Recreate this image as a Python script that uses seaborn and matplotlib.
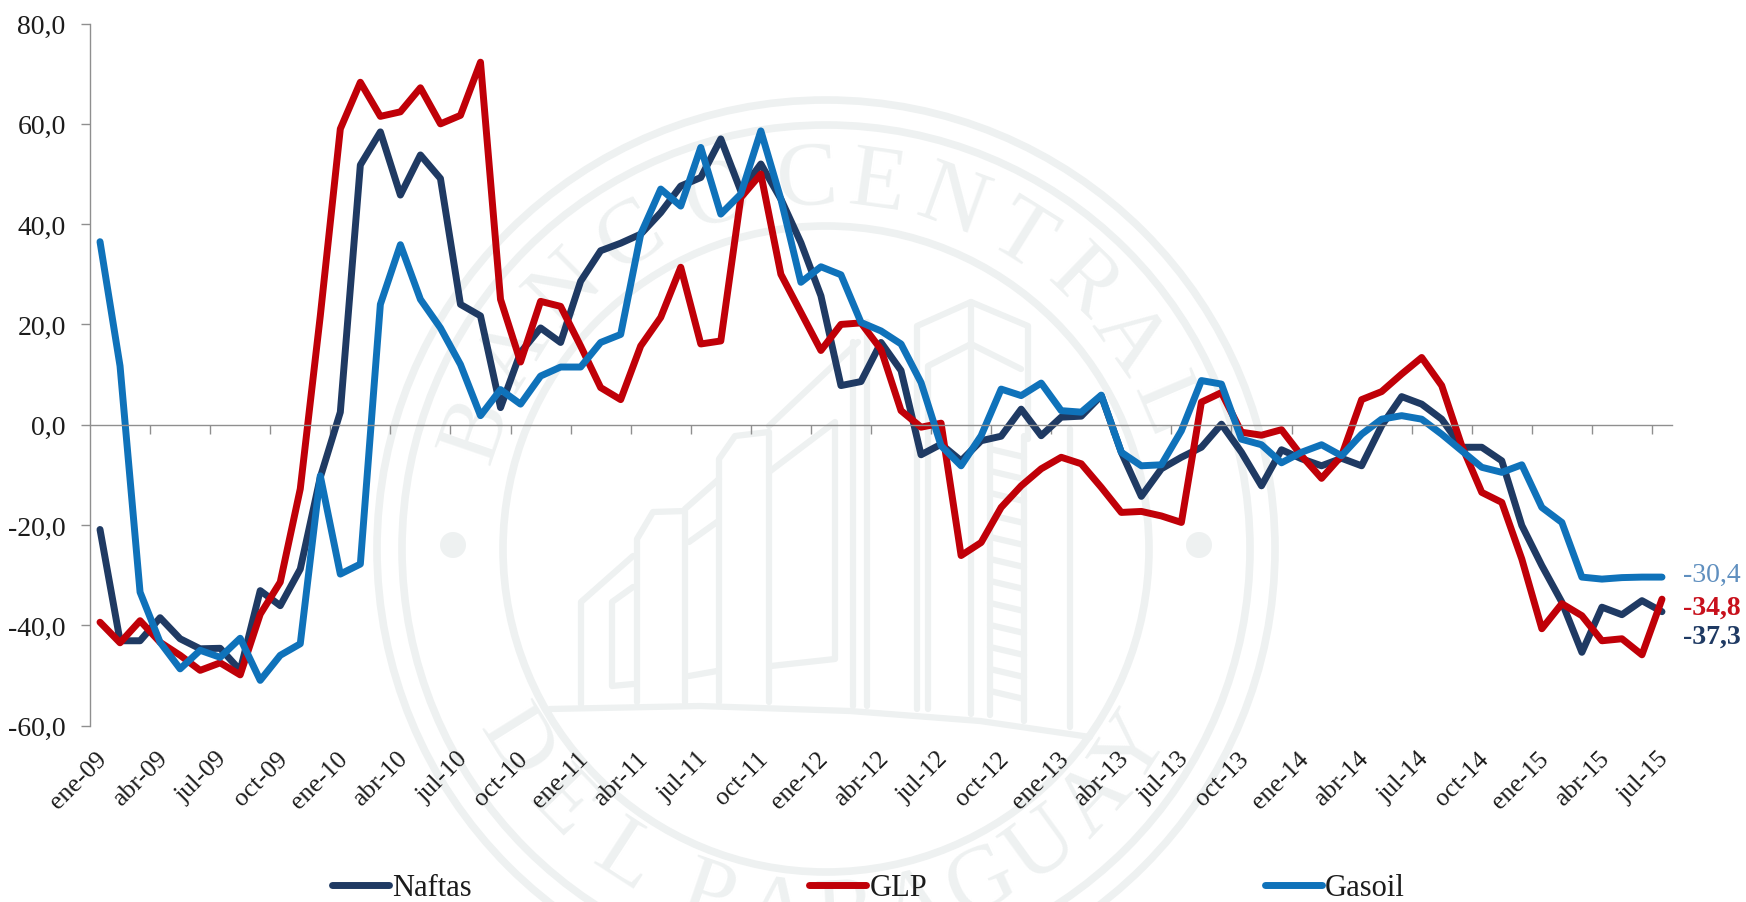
# Variacion interanual de precios de combustibles (Naftas, GLP, Gasoil)
import numpy as np
import pandas as pd
import matplotlib
matplotlib.use("Agg")
import matplotlib.pyplot as plt
from matplotlib.patches import Circle
from matplotlib.transforms import ScaledTranslation
import seaborn as sns

# Series, mensual de ene-09 a jul-15
naftas = [-20.9, -43.1, -43.1, -38.5, -42.7, -44.7, -44.6, -49.0, -33.1, -36.1, -28.8, -10.5, 2.5,
          51.8, 58.4, 45.8, 53.8, 49.1, 24.0, 21.7, 3.4, 14.4, 19.3, 16.4, 28.6,
          34.7, 36.2, 38.0, 42.3, 47.6, 49.3, 57.0, 46.6, 52.0, 45.0, 36.3, 25.7,
          7.8, 8.6, 16.4, 10.8, -6.0, -3.9, -7.2, -3.2, -2.3, 3.1, -2.2, 1.5,
          1.7, 5.8, -5.5, -14.3, -8.8, -6.5, -4.5, 0.1, -5.5, -12.2, -5.0, -6.8,
          -8.2, -6.7, -8.2, -0.2, 5.6, 4.1, 1.1, -4.5, -4.5, -7.2, -20.1, -28.1,
          -35.4, -45.4, -36.4, -37.9, -35.1, -37.3]
glp = [-39.4, -43.5, -39.1, -43.4, -46.0, -49.0, -47.5, -49.9, -37.8, -31.4, -12.8, 21.7, 59.0,
       68.3, 61.5, 62.4, 67.2, 60.0, 61.7, 72.3, 25.0, 12.5, 24.6, 23.6, 15.7,
       7.4, 5.0, 15.7, 21.4, 31.4, 16.1, 16.7, 45.3, 50.0, 30.0, 22.4, 14.8,
       20.0, 20.3, 15.0, 2.8, -0.5, 0.3, -26.1, -23.5, -16.5, -12.2, -8.8, -6.5,
       -7.8, -12.5, -17.5, -17.3, -18.2, -19.5, 4.5, 6.4, -1.5, -2.1, -1.0, -6.2,
       -10.7, -6.2, 5.0, 6.6, 10.1, 13.4, 7.8, -4.2, -13.5, -15.5, -26.8, -40.7,
       -35.7, -38.1, -43.1, -42.7, -45.9, -34.8]
gasoil = [36.5, 11.7, -33.4, -43.4, -48.7, -45.0, -46.4, -42.6, -51.0, -46.0, -43.7, -10.2, -29.8,
          -27.8, 24.0, 35.9, 25.0, 19.3, 12.0, 1.8, 7.0, 4.1, 9.7, 11.5, 11.5,
          16.4, 18.0, 38.0, 47.0, 43.6, 55.3, 42.0, 46.0, 58.6, 45.0, 28.4, 31.5,
          29.9, 20.4, 18.7, 16.1, 8.4, -4.2, -8.2, -2.2, 7.1, 5.8, 8.3, 2.8,
          2.5, 5.9, -5.5, -8.2, -8.0, -1.2, 8.8, 8.1, -2.9, -4.0, -7.6, -5.5,
          -4.0, -6.2, -1.9, 1.1, 1.8, 1.1, -1.9, -5.2, -8.5, -9.5, -8.0, -16.5,
          -19.5, -30.4, -30.8, -30.5, -30.4, -30.4]

tick_labels = ["ene-09", "abr-09", "jul-09", "oct-09", "ene-10", "abr-10", "jul-10", "oct-10",
               "ene-11", "abr-11", "jul-11", "oct-11", "ene-12", "abr-12", "jul-12", "oct-12",
               "ene-13", "abr-13", "jul-13", "oct-13", "ene-14", "abr-14", "jul-14", "oct-14",
               "ene-15", "abr-15", "jul-15"]
end_labels = ["-30,4", "-34,8", "-37,3"]
end_values = [-30.4, -34.8, -37.3]

colores = {"Naftas": "#1f3a63", "GLP": "#c00008", "Gasoil": "#0f72ba"}

df = pd.DataFrame({"mes": range(len(naftas)), "Naftas": naftas, "GLP": glp, "Gasoil": gasoil})
largo = df.melt(id_vars="mes", var_name="serie", value_name="valor")

sns.set_style("white")
plt.rcParams["font.family"] = ["Liberation Serif", "DejaVu Serif"]
gris = "#8f8f8f"
texto = "#1c1c1c"
sello = "#eef1f1"
W, H = 1746, 903

fig = plt.figure(figsize=(W / 100, H / 100), dpi=100, facecolor="white")

# Sello de fondo (marca de agua), en pixeles de la figura
bg = fig.add_axes([0, 0, 1, 1], zorder=0)
bg.set_xlim(0, W)
bg.set_ylim(H, 0)
bg.axis("off")
cx, cy = 826, 550
for r in [449, 424, 323]:
    bg.add_patch(Circle((cx, cy), r, fill=False, ec=sello, lw=5.5))
for dx in [-373, 373]:
    bg.add_patch(Circle((cx + dx, cy - 4), 13, fc=sello, ec="none"))

arriba = "BANCO CENTRAL"
ang_arriba = [-71, -58, -45, -32, -17, None, -3, 8, 20, 32, 44, 55, 67]
abajo = "DEL PARAGUAY"
ang_abajo = [-58, -46, -33, None, -19, -8, 3, 14, 25, 36, 47, 57]
for letra, a in zip(arriba, ang_arriba):
    if a is None:
        continue
    t = np.radians(a)
    bg.text(cx + 368 * np.sin(t), cy - 368 * np.cos(t), letra, rotation=-a, fontsize=66,
            color=sello, ha="center", va="center", rotation_mode="anchor")
for letra, a in zip(abajo, ang_abajo):
    if a is None:
        continue
    t = np.radians(a)
    bg.text(cx + 368 * np.sin(t), cy + 368 * np.cos(t), letra, rotation=a, fontsize=66,
            color=sello, ha="center", va="center", rotation_mode="anchor")

edificio = [
    [(581, 705), (581, 603), (633, 557)],
    [(633, 588), (612, 603), (612, 687), (633, 685)],
    [(637, 703), (637, 540), (653, 513), (685, 512), (685, 703)],
    [(685, 510), (719, 480)],
    [(689, 543), (717, 523)],
    [(689, 677), (717, 672)],
    [(719, 703), (719, 460), (735, 437), (769, 433), (769, 703)],
    [(769, 473), (835, 423), (835, 660), (771, 667)],
    [(769, 427), (858, 343)],
    [(853, 343), (853, 707)],
    [(867, 323), (867, 707)],
    [(917, 710), (917, 327), (971, 303), (1028, 327), (1028, 440)],
    [(928, 710), (928, 367), (971, 345), (1021, 370)],
    [(971, 303), (971, 715)],
    [(990, 437), (990, 716)],
    [(1024, 437), (1024, 722)],
    [(1070, 430), (1070, 728)],
    [(550, 710), (700, 707), (850, 712), (980, 722), (1090, 738)],
]
for tramo in edificio:
    xs, ys = zip(*tramo)
    bg.plot(xs, ys, color=sello, lw=4.5, solid_joinstyle="round")
for y in range(450, 710, 22):
    bg.plot([990, 1024], [y, y + 8], color=sello, lw=4.5)

# Grafico principal
ax = fig.add_axes([90 / W, 1 - 726.5 / H, (1672 - 90) / W, (726.5 - 24.6) / H], zorder=1)
ax.patch.set_alpha(0)
sns.lineplot(data=largo, x="mes", y="valor", hue="serie", hue_order=["Naftas", "GLP", "Gasoil"],
             palette=colores, linewidth=5, errorbar=None, ax=ax,
             solid_capstyle="round", solid_joinstyle="round")

ax.set_xlim(-0.5, 78.5)
ax.set_ylim(-60, 80)
ax.set_xlabel("")
ax.set_ylabel("")
ax.spines["top"].set_visible(False)
ax.spines["right"].set_visible(False)
ax.spines["left"].set_color(gris)
ax.spines["bottom"].set_color(gris)
ax.spines["bottom"].set_position(("data", 0))
for s in ["left", "bottom"]:
    ax.spines[s].set_linewidth(1.0)

yticks = np.arange(-60, 81, 20)
ax.set_yticks(yticks)
ax.set_yticklabels([f"{v:.1f}".replace(".", ",") for v in yticks])
ax.tick_params(axis="y", left=True, length=6.5, width=1.0, color=gris, pad=11, labelsize=20, labelcolor=texto)

ax.set_xticks(np.arange(0, 79, 3))
ax.set_xticklabels(tick_labels, rotation=45, ha="right", rotation_mode="anchor", va="top")
ax.set_xticks(np.arange(2.5, 78, 3), minor=True)
ax.tick_params(axis="x", which="major", bottom=True, length=0, pad=232, labelsize=18.5, labelcolor=texto)
ax.tick_params(axis="x", which="minor", bottom=True, length=6.3, width=1.0, color=gris)
corrimiento = ScaledTranslation(-4 / 100, 0, fig.dpi_scale_trans)
for lab in ax.get_xticklabels():
    lab.set_transform(lab.get_transform() + corrimiento)

# Etiquetas finales
for lbl, v, col, dy, peso in zip(end_labels, end_values, ["#5f8fbf", "#c8101c", "#1f3a63"],
                                 [3, -8, -24], ["normal", "bold", "bold"]):
    ax.annotate(lbl, xy=(78, v), xytext=(21, dy), textcoords="offset pixels", color=col,
                fontsize=20, fontweight=peso, va="center", ha="left", annotation_clip=False)

sns.move_legend(ax, "center left", bbox_to_anchor=(332 / W, 1 - 889 / H), bbox_transform=fig.transFigure,
                ncol=3, title=None, frameon=False, fontsize=22, handlelength=1.85, handletextpad=0.12,
                columnspacing=11.05, borderpad=0, borderaxespad=0)
leg = ax.get_legend()
for h in leg.legend_handles:
    h.set_linewidth(5)
    h.set_solid_capstyle("round")
for t in leg.get_texts():
    t.set_color(texto)

fig.savefig("out.png", dpi=100, facecolor="white")
